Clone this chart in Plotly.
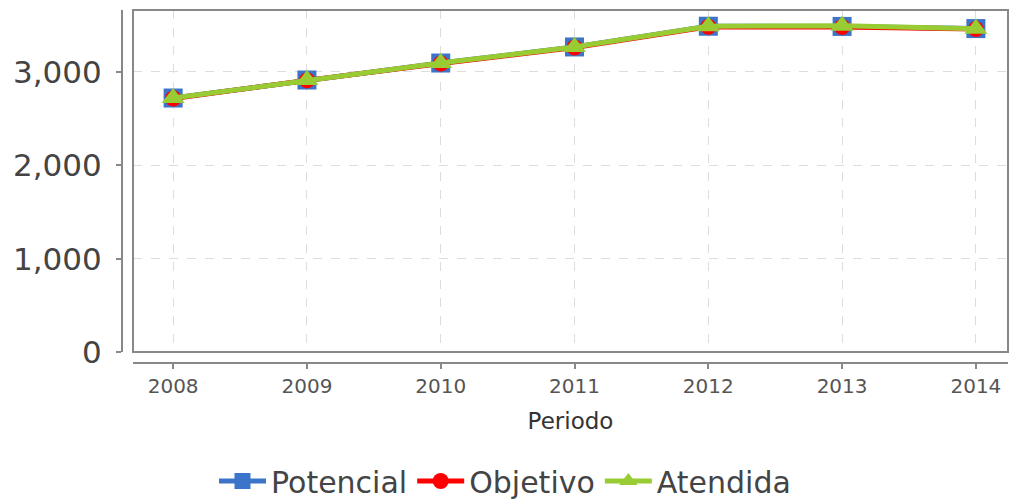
import plotly.graph_objects as go

periodos = ["2008", "2009", "2010", "2011", "2012", "2013", "2014"]
potencial = [2721, 2914, 3096, 3268, 3490, 3488, 3465]
objetivo = [2716, 2910, 3090, 3262, 3484, 3482, 3460]
atendida = [2721, 2914, 3096, 3268, 3490, 3495, 3462]
y_ticks = [0, 1000, 2000, 3000]

W, H = 1010, 499
ml, mr, mt, mb = 122, 2, 10, 136
pw = W - ml - mr
ph = H - mt - mb
x0 = (133 - ml) / pw
y0 = (363 - 352) / ph
leg_y = (363 - 481) / ph

xs = list(range(len(periodos)))

fig = go.Figure()
series = [
    ("Potencial", potencial, "#3b74c8", "square", 19),
    ("Objetivo", objetivo, "#ff0000", "circle", 16),
    ("Atendida", atendida, "#99cc33", "triangle-up", 20),
]
for name, vals, col, sym, sz in series:
    fig.add_trace(go.Scatter(
        x=xs, y=vals, name=name, mode="lines+markers",
        line=dict(color=col, width=5),
        marker=dict(symbol=sym, size=sz, color=col, line=dict(width=0)),
    ))

fig.update_layout(
    width=W, height=H,
    margin=dict(l=ml, r=mr, t=mt, b=mb, pad=0, autoexpand=False),
    paper_bgcolor="white", plot_bgcolor="white",
    font=dict(family="DejaVu Sans", color="#444444"),
    showlegend=True,
    legend=dict(orientation="h", x=0.5, xanchor="center", xref="container",
                y=leg_y, yref="paper", yanchor="middle",
                font=dict(size=30, color="#444444"),
                itemwidth=47, tracegroupgap=0, bgcolor="rgba(0,0,0,0)"),
    xaxis=dict(
        domain=[x0, 1], anchor="free", position=0, automargin=False,
        range=[-0.3, 6.24], tickmode="array", tickvals=xs, ticktext=periodos,
        showline=True, linecolor="#888888", linewidth=2,
        ticks="outside", ticklen=5, tickcolor="#888888", tickwidth=2,
        showgrid=True, gridcolor="#dddddd", griddash="dash", gridwidth=1,
        zeroline=False,
        tickfont=dict(size=20, family="DejaVu Sans", color="#555555"),
        title=dict(text="Periodo", standoff=15,
                   font=dict(size=23, family="DejaVu Sans", color="#333333")),
    ),
    yaxis=dict(
        domain=[y0, 1], anchor="free", position=0, automargin=False,
        range=[0, 3664], tickmode="array", tickvals=y_ticks,
        tickformat=",d",
        showline=True, linecolor="#888888", linewidth=2,
        ticks="outside", ticklen=5, tickcolor="#888888", tickwidth=2,
        showgrid=True, gridcolor="#dddddd", griddash="dash", gridwidth=1,
        zeroline=False,
        ticklabelstandoff=8,
        tickfont=dict(size=31, color="#444444"),
    ),
)

fig.add_shape(type="rect", xref="x domain", yref="y domain",
              x0=0, x1=1, y0=0, y1=1,
              line=dict(color="#888888", width=2), fillcolor="rgba(0,0,0,0)",
              layer="above")

fig.write_html("out.html", config={"displayModeBar": False},
               post_script="document.body.style.margin='0';document.body.style.overflow='hidden';")
